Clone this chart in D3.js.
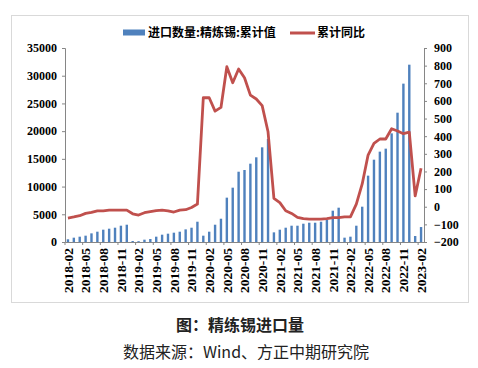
<!DOCTYPE html>
<html>
<head>
<meta charset="utf-8">
<script src="https://cdn.jsdelivr.net/npm/d3@7"></script>
<style>
  body { margin: 0; background: #fff; }
  svg { display: block; }
  .axis path, .axis line { stroke: #868686; }
  .axis text { font-family: "Liberation Serif", serif; font-weight: bold; font-size: 12px; fill: #000; }
  .xaxis text { font-size: 13.5px; }
</style>
</head>
<body>
<div id="chart"></div>
<script>
// months 2018-02 .. 2023-02
const months = d3.timeMonth.range(new Date(2018, 1, 1), new Date(2023, 2, 1)).map(d3.timeFormat("%Y-%m"))

// 进口数量:精炼锡:累计值 (吨)
const imports = [
  490, 780, 960, 1140, 1560, 1860, 2220, 2400, 2580, 2940, 3120,
  180, 150, 420, 540, 960, 1320, 1500, 1680, 1860, 2280, 2580, 3660,
  1140, 1860, 3120, 4200, 8000, 9800, 12680, 12990, 14130, 15280, 17080, 18580,
  1740, 2220, 2580, 2940, 2940, 3300, 3480, 3480, 3660, 3970, 5650, 6190,
  780, 960, 2940, 6370, 11970, 14850, 16300, 16840, 19600, 23330, 28570, 31990,
  1080, 2700
]

// 累计同比 (%)
const yoy = [
  -64, -58, -51, -38, -32, -23, -23, -19, -19, -19, -19,
  -40, -47, -34, -28, -22, -19, -23, -30, -19, -17, -4, 15,
  618, 618, 542, 563, 794, 703, 781, 731, 633, 611, 573, 425,
  47, 23, -23, -38, -60, -68, -70, -70, -70, -68, -62, -62,
  -58, -58, 15, 129, 293, 359, 384, 384, 442, 429, 414, 423,
  61, 218
]

const leftTicks = [0, 5000, 10000, 15000, 20000, 25000, 30000, 35000]
const rightTicks = [-200, -100, 0, 100, 200, 300, 400, 500, 600, 700, 800, 900]

const width = 478, height = 368
const plot = { left: 65, right: 424, top: 48, bottom: 242 }

const svg = d3.select("#chart").append("svg")
    .attr("width", width)
    .attr("height", height)

// outer frame
svg.append("rect")
    .attr("x", 11.5).attr("y", 15.5)
    .attr("width", 457).attr("height", 287)
    .attr("fill", "none")
    .attr("stroke", "#d9d9d9")

const x = d3.scaleBand()
    .domain(months)
    .range([plot.left, plot.right])
    .padding(0)

const yL = d3.scaleLinear().domain([0, 35000]).range([plot.bottom, plot.top])
const yR = d3.scaleLinear().domain([-200, 900]).range([plot.bottom, plot.top])

// bars
const barW = 2.4
svg.append("g").selectAll("rect")
    .data(imports)
    .enter()
      .append("rect")
      .attr("x", (d, i) => x(months[i]) + x.bandwidth() / 2 - barW / 2)
      .attr("y", d => yL(d))
      .attr("width", barW)
      .attr("height", d => yL(0) - yL(d))
      .attr("fill", "#4f81bd")

// left axis
svg.append("g")
    .attr("class", "axis")
    .attr("transform", "translate(" + plot.left + ",0)")
    .call(d3.axisLeft(yL).tickValues(leftTicks).tickSize(3).tickPadding(5).tickFormat(d3.format("d")))

// right axis
svg.append("g")
    .attr("class", "axis")
    .attr("transform", "translate(" + plot.right + ",0)")
    .call(d3.axisRight(yR).tickValues(rightTicks).tickSize(3).tickPadding(7).tickFormat(d3.format("d")))

// x axis
const labelMonths = months.filter((m, i) => i % 3 === 0)
const xAxis = svg.append("g")
    .attr("class", "axis xaxis")
    .attr("transform", "translate(0," + plot.bottom + ")")
    .call(d3.axisBottom(x).tickValues(labelMonths).tickSize(0).tickSizeOuter(0))

xAxis.selectAll(".tick text")
    .attr("transform", "rotate(-90)")
    .attr("x", -6)
    .attr("y", 0)
    .attr("dy", "0.35em")
    .attr("text-anchor", "end")

// tick marks at category boundaries
xAxis.selectAll(".bound")
    .data(labelMonths)
    .enter()
      .append("line")
      .attr("class", "bound")
      .attr("x1", d => x(d)).attr("x2", d => x(d))
      .attr("y1", 0).attr("y2", 3)
      .attr("stroke", "#868686")

// line
const line = d3.line()
    .x((d, i) => x(months[i]) + x.bandwidth() / 2)
    .y(d => yR(d))

svg.append("path")
    .datum(yoy)
    .attr("fill", "none")
    .attr("stroke", "#c0504d")
    .attr("stroke-width", 2.8)
    .attr("stroke-linejoin", "round")
    .attr("d", line)

// legend
const legend = svg.append("g")
    .style("font-family", "'Noto Sans CJK SC', sans-serif")
    .style("font-weight", "bold")
    .style("font-size", "12px")

legend.append("rect")
    .attr("x", 123).attr("y", 29.5)
    .attr("width", 22).attr("height", 6)
    .attr("fill", "#4f81bd")
legend.append("text")
    .attr("x", 148).attr("y", 37)
    .text("进口数量:精炼锡:累计值")

legend.append("line")
    .attr("x1", 290).attr("x2", 315)
    .attr("y1", 33).attr("y2", 33)
    .attr("stroke", "#c0504d")
    .attr("stroke-width", 3)
legend.append("text")
    .attr("x", 317).attr("y", 37)
    .text("累计同比")

// caption
svg.append("text")
    .attr("x", 240).attr("y", 331)
    .attr("text-anchor", "middle")
    .style("font-family", "'Noto Sans CJK SC', sans-serif")
    .style("font-weight", "bold")
    .style("font-size", "16px")
    .attr("fill", "#222")
    .text("图：精练锡进口量")

svg.append("text")
    .attr("x", 246).attr("y", 358)
    .attr("text-anchor", "middle")
    .style("font-family", "'Noto Sans CJK SC', sans-serif")
    .style("font-size", "16px")
    .attr("fill", "#222")
    .text("数据来源：Wind、方正中期研究院")
</script>
</body>
</html>
